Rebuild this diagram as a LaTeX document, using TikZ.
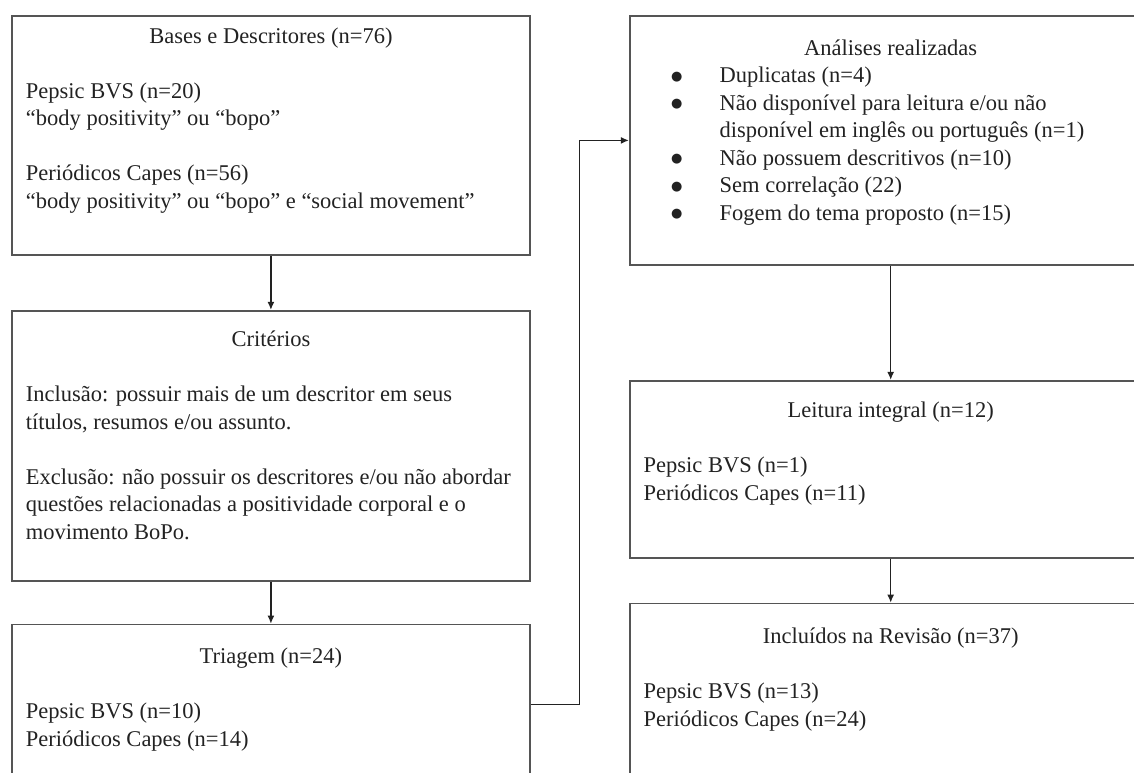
\documentclass[tikz,border=0pt]{standalone}
\usepackage{fontspec}
\setmainfont{Liberation Serif}
\newfontfamily\dotfont{DejaVu Sans}
\usepackage{xcolor}
\usetikzlibrary{arrows.meta,positioning}
\definecolor{edge}{RGB}{85,85,85}
\definecolor{ink}{RGB}{34,34,34}
\newcommand{\skipline}{\par\vspace{\baselineskip}}
\newcommand{\bul}{\hspace*{26pt}\makebox[14pt][c]{\raisebox{2.5pt}{\dotfont\fontsize{13pt}{13pt}\selectfont ●}}\hspace*{36pt}}
\newcommand{\cardbody}[4]{\begin{minipage}[t][#2][t]{#1}\raggedright\vspace*{#3}#4\end{minipage}}
\tikzset{
  flow/.style={>={Latex[length=8pt,width=7pt]},line width=1.2pt},
  link/.style={->,ink},
  card/.style={draw=edge,line width=1.8pt,inner xsep=14pt,inner ysep=0pt,
    anchor=north west,text=ink,font=\fontsize{22.5pt}{27.5pt}\selectfont},
}
\begin{document}
\begin{tikzpicture}[flow]
\useasboundingbox (0,0) rectangle (1134pt,-772pt);
\clip (0,0) rectangle (1134pt,-772pt);
\node[card] (bases) at (11pt,-15pt) {\cardbody{490pt}{239pt}{8pt}{%
  {\centering\strut Bases e Descritores (n=76)\par}\skipline
  Pepsic BVS (n=20)\\
  “body positivity” ou “bopo”\skipline
  Periódicos Capes (n=56)\\
  “body positivity” ou “bopo” e “social movement”}};
\node[card,below=54pt of bases] (crit) {\cardbody{490pt}{270pt}{17pt}{%
  {\centering\strut Critérios\par}\skipline
  Inclusão: possuir mais de um descritor em seus\\
  títulos, resumos e/ou assunto.\skipline
  Exclusão: não possuir os descritores e/ou não abordar\\
  questões relacionadas a positividade corporal e o\\
  movimento BoPo.}};
\node[card,below=42pt of crit] (triag) {\cardbody{490pt}{160pt}{20pt}{%
  {\centering\strut Triagem (n=24)\par}\skipline
  Pepsic BVS (n=10)\\
  Periódicos Capes (n=14)}};
\node[card,right=98pt of bases.north east,anchor=north west] (anal) {\cardbody{494pt}{249pt}{20pt}{%
  {\centering\strut Análises realizadas\par}
  \bul Duplicatas (n=4)\\
  \bul Não disponível para leitura e/ou não\\
  \hspace*{76pt}disponível em inglês ou português (n=1)\\
  \bul Não possuem descritivos (n=10)\\
  \bul Sem correlação (22)\\
  \bul Fogem do tema proposto (n=15)}};
\node[card,below=114pt of anal] (leit) {\cardbody{494pt}{177pt}{18pt}{%
  {\centering\strut Leitura integral (n=12)\par}\skipline
  Pepsic BVS (n=1)\\
  Periódicos Capes (n=11)}};
\node[card,below=44pt of leit] (incl) {\cardbody{494pt}{190pt}{21pt}{%
  {\centering\strut Incluídos na Revisão (n=37)\par}\skipline
  Pepsic BVS (n=13)\\
  Periódicos Capes (n=24)}};
\draw[link] (bases)--(crit); \draw[link] (crit)--(triag);
\draw[link] (triag.east) -- ++(49pt,0) |- (anal.west);
\draw[link] (anal)--(leit); \draw[link] (leit)--(incl);
\end{tikzpicture}
\end{document}
